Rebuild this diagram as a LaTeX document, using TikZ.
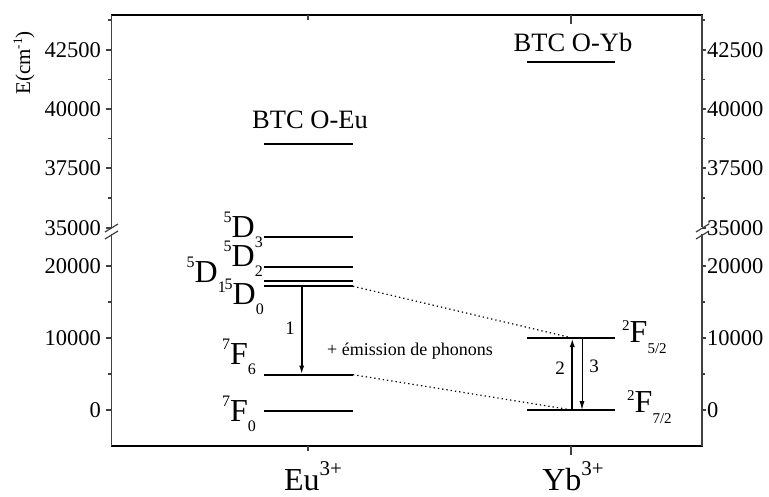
\documentclass[tikz,border=0pt]{standalone}
\usepackage{fontspec}
\setmainfont{Liberation Serif}
\usetikzlibrary{arrows.meta,positioning}
\tikzstyle{axe}=[line width=2pt]
\tikzstyle{axeV}=[line width=1.3pt,color=black!75]
\tikzstyle{grad}=[line width=1.2pt,color=black!75]
\tikzstyle{niveau}=[line width=1.8pt]
\tikzstyle{fleche}=[-{Latex[length=9pt,width=5pt]},line width=1.8pt]
\tikzstyle{flecheF}=[-{Latex[length=9pt,width=5pt]},line width=1pt]
\tikzstyle{pointille}=[line width=1.2pt,dash pattern=on 1.3pt off 3pt]
\tikzstyle{valeur}=[inner sep=0pt,font=\fontsize{22.5}{22.5}\selectfont]
\tikzstyle{terme}=[inner sep=0pt,font=\fontsize{32}{32}\selectfont]
\tikzstyle{titre}=[inner sep=0pt,font=\fontsize{26.5}{26.5}\selectfont]
\tikzstyle{chiffre}=[inner sep=0pt,font=\fontsize{19}{19}\selectfont]
\newcommand{\etat}[3]{\raisebox{15pt}{\fontsize{16}{16}\selectfont #1}#2\raisebox{-10pt}{\fontsize{16}{16}\selectfont #3}}
\newcommand{\etatb}[3]{\raisebox{12pt}{\fontsize{15}{15}\selectfont #1}#2\raisebox{-11pt}{\fontsize{15}{15}\selectfont #3}}
\newcommand{\ion}[2]{#1\raisebox{15pt}{\fontsize{21}{21}\selectfont #2}}

\begin{document}
\begin{tikzpicture}[x=1pt,y=-1pt]
  \useasboundingbox (0,0) rectangle (769,497);

  % Cadre
  \draw[axe] (110.8,15) -- (702.7,15);
  \draw[axe] (110.8,446) -- (702.7,446);
  \draw[axeV] (111.5,15) -- (111.5,227);
  \draw[axeV] (111.5,234) -- (111.5,446);
  \draw[axeV] (702,15) -- (702,227);
  \draw[axeV] (702,234) -- (702,446);
  % Coupures de l'axe
  \draw[grad] (105,232) -- (118,224);
  \draw[grad] (105,239) -- (118,231);
  \draw[grad] (696,232) -- (709,224);
  \draw[grad] (696,239) -- (709,231);

  % Graduations
  \foreach \v/\y in {42500/50,40000/109,37500/168,35000/228,20000/266,10000/338,0/410} {
    \draw[grad] (105.5,\y) -- (111.5,\y);
    \draw[grad] (702,\y) -- (705.5,\y);
    \node[valeur,anchor=east] (g\v) at (101,\y) {\v};
    \node[valeur,anchor=west] (d\v) at (707,\y) {\v};
  }
  \foreach \y in {20,79.5,138.5,198,302,374} {
    \draw[grad] (108,\y) -- (111.5,\y);
    \draw[grad] (702,\y) -- (704.5,\y);
  }
  \draw[grad] (308,15) -- (308,20);
  \draw[grad] (571,15) -- (571,24);
  \draw[grad] (308,446) -- (308,451);
  \draw[grad] (571,446) -- (571,455);

  \node[inner sep=0pt,rotate=90,font=\fontsize{21}{21}\selectfont] (energie) at (24,63) {E(cm\raisebox{8pt}{\fontsize{13}{13}\selectfont -1})};

  % Niveaux Eu
  \coordinate (BTCEug) at (264,144); \coordinate (BTCEud) at (353,144);
  \coordinate (D3g) at (264,237);    \coordinate (D3d) at (353,237);
  \coordinate (D2g) at (264,266.7);  \coordinate (D2d) at (353,266.7);
  \coordinate (D1g) at (264,280.7);  \coordinate (D1d) at (353,280.7);
  \coordinate (D0g) at (264,286.3);  \coordinate (D0d) at (353,286.3);
  \coordinate (F6g) at (264,374.7);  \coordinate (F6d) at (353,374.7);
  \coordinate (F0g) at (264,411);    \coordinate (F0d) at (353,411);
  \draw[niveau] (BTCEug) -- (BTCEud);
  \draw[niveau] (D3g) -- (D3d);
  \draw[niveau] (D2g) -- (D2d);
  \draw[niveau] (D1g) -- (D1d);
  \draw[niveau] (D0g) -- (D0d);
  \draw[niveau] (F6g) -- (F6d);
  \draw[niveau] (F0g) -- (F0d);

  % Niveaux Yb
  \coordinate (BTCYbg) at (527,62);  \coordinate (BTCYbd) at (615,62);
  \coordinate (F52g) at (527,338);   \coordinate (F52d) at (615,338);
  \coordinate (F72g) at (527,410);   \coordinate (F72d) at (615,410);
  \draw[niveau] (BTCYbg) -- (BTCYbd);
  \draw[niveau] (F52g) -- (F52d);
  \draw[niveau] (F72g) -- (F72d);

  % Etiquettes
  \node[titre] (btcEu) at (310,120) {BTC O-Eu};
  \node[titre] (btcYb) at (573,42) {BTC O-Yb};
  \node[terme,anchor=base east] (lD3) at (263,238) {\etat{5}{D}{3}};
  \node[terme,anchor=base east] (lD2) at (263,267) {\etat{5}{D}{2}};
  \node[terme,anchor=base east] (lD1) at (226,283) {\etat{5}{D}{1}};
  \node[terme,anchor=base east] (lD0) at (264,305) {\etat{5}{D}{0}};
  \node[terme,anchor=base east] (lF6) at (256,364) {\etat{7}{F}{6}};
  \node[terme,anchor=base east] (lF0) at (256,421) {\etat{7}{F}{0}};
  \node[terme,anchor=base west] (lF52) at (622,342) {\etatb{2}{F}{5/2}};
  \node[terme,anchor=base west] (lF72) at (627,412) {\etatb{2}{F}{7/2}};
  \node[inner sep=0pt,font=\fontsize{32}{32}\selectfont,anchor=base] (Eu) at (313,490) {\ion{Eu}{3+}};
  \node[inner sep=0pt,font=\fontsize{32}{32}\selectfont,anchor=base] (Yb) at (573,490) {\ion{Yb}{3+}};

  % Transitions
  \coordinate (t1) at (301.7,0);
  \coordinate (t2) at (572.3,0);
  \coordinate (t3) at (582,0);
  \draw[fleche] (D0g -| t1) -- (F6g -| t1);
  \draw[fleche] (F72g -| t2) -- (F52g -| t2);
  \draw[flecheF] (F52g -| t3) -- (F72g -| t3);
  \draw[pointille] (D0d) -- (F52g -| t2);
  \draw[pointille] (F6d) -- (F72g -| t2);
  \node[chiffre] (n1) at (290,328) {1};
  \node[chiffre] (n2) at (560,368) {2};
  \node[chiffre] (n3) at (594,366) {3};
  \node[inner sep=0pt,font=\fontsize{18}{18}\selectfont] (phonons) at (410,351) {+ émission de phonons};

\end{tikzpicture}
\end{document}
